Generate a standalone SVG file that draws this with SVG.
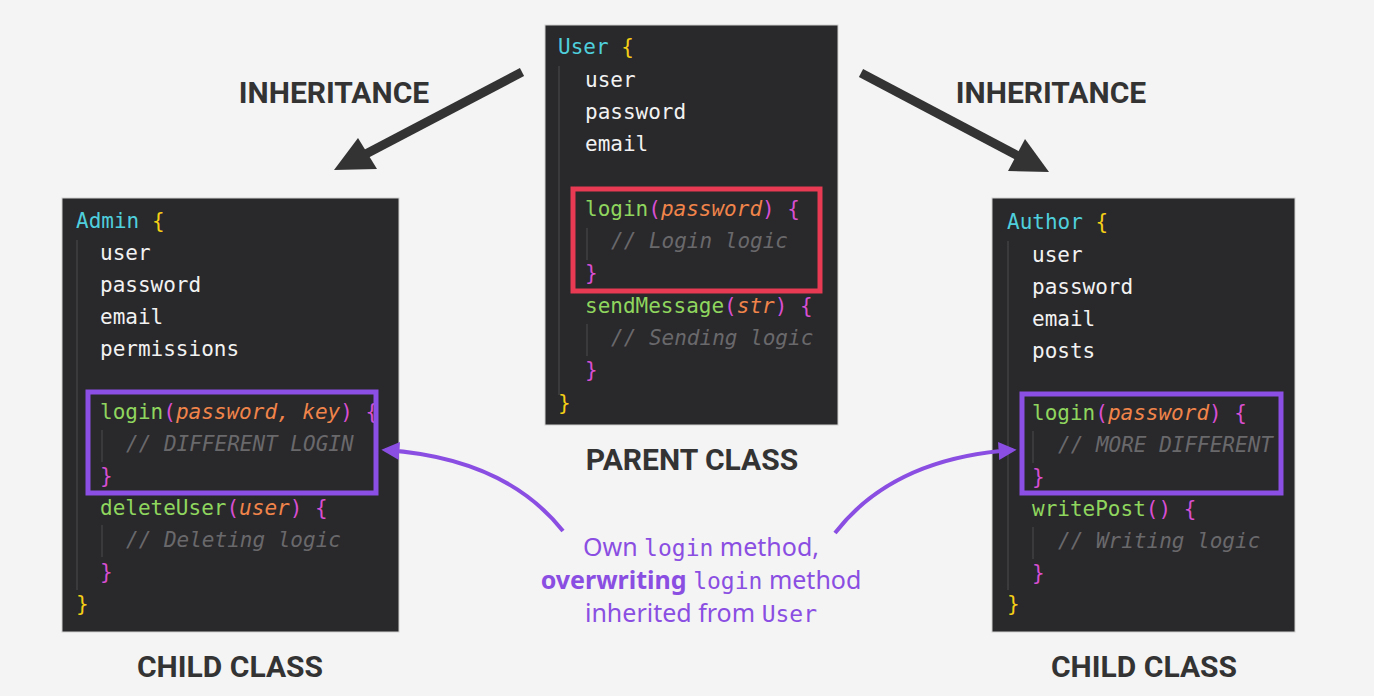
<svg xmlns="http://www.w3.org/2000/svg" width="1374" height="696" viewBox="0 0 1374 696">
<defs>
<style>
.code{font-family:"DejaVu Sans Mono","Liberation Mono",monospace;font-size:21px;white-space:pre}
.cls{fill:#4fcfdc}.yb{fill:#f5cf16}.prop{fill:#f2f2f2}.fn{fill:#8fd65e}.pb{fill:#d84fd2}
.arg{fill:#f0844a;font-style:italic}.cm{fill:#69696b;font-style:italic}
.box{fill:#29282b;stroke:#d0d0d0;stroke-width:1}
.guide{stroke:#414144;stroke-width:1.5}
.lbl{font-family:Roboto,"Liberation Sans",sans-serif;font-weight:bold;font-size:30px;fill:#333;text-anchor:middle}
.hl{fill:none;stroke-width:5}
.note{font-family:"Noto Sans","Open Sans",sans-serif;font-size:25px;fill:#8a4ee2;text-anchor:middle;white-space:pre}
.mono{font-family:"DejaVu Sans Mono",monospace;font-size:23px}
</style>
<marker id="pa" viewBox="0 0 10 10" refX="8" refY="5" markerWidth="4.5" markerHeight="4.5" orient="auto" markerUnits="strokeWidth">
<path d="M0,0 L10,5 L0,10 Z" fill="#8a4ee2"/>
</marker>
</defs>
<rect width="1374" height="696" fill="#f4f4f4"/>

<g id="parent">
<rect class="box" x="545" y="25" width="293" height="400"/>
<line class="guide" x1="559" y1="66" x2="559" y2="395"/>
<line class="guide" x1="587" y1="228" x2="587" y2="260"/>
<line class="guide" x1="587" y1="324" x2="587" y2="356"/>
<text class="code" x="558" y="54"><tspan class="cls">User</tspan> <tspan class="yb">{</tspan></text>
<text class="code prop" x="585" y="87">user</text>
<text class="code prop" x="585" y="119">password</text>
<text class="code prop" x="585" y="151">email</text>
<text class="code" x="585" y="216"><tspan class="fn">login</tspan><tspan class="pb">(</tspan><tspan class="arg">password</tspan><tspan class="pb">) {</tspan></text>
<text class="code cm" x="611" y="248">// Login logic</text>
<text class="code pb" x="585" y="280">}</text>
<text class="code" x="585" y="313"><tspan class="fn">sendMessage</tspan><tspan class="pb">(</tspan><tspan class="arg">str</tspan><tspan class="pb">) {</tspan></text>
<text class="code cm" x="611" y="345">// Sending logic</text>
<text class="code pb" x="585" y="377">}</text>
<text class="code yb" x="558" y="410">}</text>
<rect class="hl" x="573" y="189" width="247" height="102" stroke="#e83a52"/>
</g>

<g id="admin">
<rect class="box" x="62" y="198" width="337" height="434"/>
<line class="guide" x1="77" y1="240" x2="77" y2="590"/>
<line class="guide" x1="102" y1="430" x2="102" y2="462"/>
<line class="guide" x1="102" y1="525" x2="102" y2="557"/>
<text class="code" x="76" y="228"><tspan class="cls">Admin</tspan> <tspan class="yb">{</tspan></text>
<text class="code prop" x="100" y="260">user</text>
<text class="code prop" x="100" y="292">password</text>
<text class="code prop" x="100" y="324">email</text>
<text class="code prop" x="100" y="356">permissions</text>
<text class="code" x="100" y="419"><tspan class="fn">login</tspan><tspan class="pb">(</tspan><tspan class="arg">password, key</tspan><tspan class="pb">) {</tspan></text>
<text class="code cm" x="126" y="451">// DIFFERENT LOGIN</text>
<text class="code pb" x="100" y="483">}</text>
<text class="code" x="100" y="515"><tspan class="fn">deleteUser</tspan><tspan class="pb">(</tspan><tspan class="arg">user</tspan><tspan class="pb">) {</tspan></text>
<text class="code cm" x="126" y="547">// Deleting logic</text>
<text class="code pb" x="100" y="579">}</text>
<text class="code yb" x="76" y="611">}</text>
<rect class="hl" x="88" y="392" width="288" height="101" stroke="#8c4fe6"/>
</g>

<g id="author">
<rect class="box" x="992" y="198" width="303" height="434"/>
<line class="guide" x1="1008" y1="241" x2="1008" y2="590"/>
<line class="guide" x1="1033" y1="431" x2="1033" y2="463"/>
<line class="guide" x1="1033" y1="527" x2="1033" y2="559"/>
<text class="code" x="1007" y="229"><tspan class="cls">Author</tspan> <tspan class="yb">{</tspan></text>
<text class="code prop" x="1032" y="262">user</text>
<text class="code prop" x="1032" y="294">password</text>
<text class="code prop" x="1032" y="326">email</text>
<text class="code prop" x="1032" y="358">posts</text>
<text class="code" x="1032" y="420"><tspan class="fn">login</tspan><tspan class="pb">(</tspan><tspan class="arg">password</tspan><tspan class="pb">) {</tspan></text>
<text class="code cm" x="1058" y="452">// MORE DIFFERENT</text>
<text class="code pb" x="1032" y="484">}</text>
<text class="code" x="1032" y="516"><tspan class="fn">writePost</tspan><tspan class="pb">() {</tspan></text>
<text class="code cm" x="1058" y="548">// Writing logic</text>
<text class="code pb" x="1032" y="580">}</text>
<text class="code yb" x="1007" y="611">}</text>
<rect class="hl" x="1022" y="394" width="259" height="99" stroke="#8c4fe6"/>
</g>

<g id="labels">
<text class="lbl" x="334" y="103">INHERITANCE</text>
<text class="lbl" x="1051" y="103">INHERITANCE</text>
<text class="lbl" x="692" y="470">PARENT CLASS</text>
<text class="lbl" x="230" y="677">CHILD CLASS</text>
<text class="lbl" x="1144" y="677">CHILD CLASS</text>
</g>

<g id="note">
<text class="note" x="701" y="556">Own <tspan class="mono">login</tspan> method,</text>
<text class="note" x="701" y="589"><tspan font-weight="bold">overwriting</tspan> <tspan class="mono">login</tspan> method</text>
<text class="note" x="701" y="622">inherited from <tspan class="mono">User</tspan></text>
</g>

<g id="connectors">
<line x1="522" y1="72" x2="362" y2="156" stroke="#333" stroke-width="9"/>
<polygon points="334,170 358,138 377,169" fill="#333"/>
<line x1="861" y1="73" x2="1022" y2="158" stroke="#333" stroke-width="9"/>
<polygon points="1049,172 1025,139 1008,171" fill="#333"/>
<path d="M563,531 Q505,458 385,450" fill="none" stroke="#8a4ee2" stroke-width="4" marker-end="url(#pa)"/>
<path d="M835,533 Q893,458 1013,450" fill="none" stroke="#8a4ee2" stroke-width="4" marker-end="url(#pa)"/>
</g>
</svg>
